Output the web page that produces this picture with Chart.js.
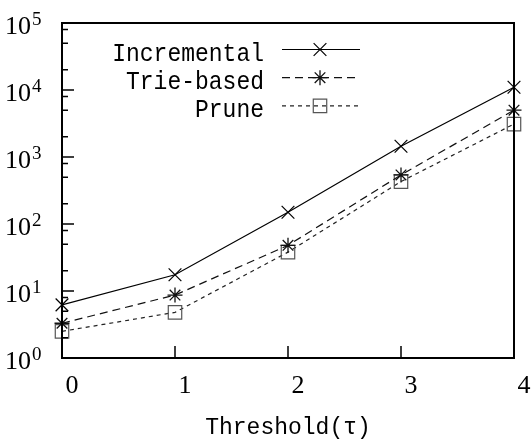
<!DOCTYPE html>
<html><head><meta charset="utf-8">
<script src="https://cdn.jsdelivr.net/npm/chart.js@4"></script>
<style>html,body{margin:0;padding:0;background:#fff}#wrap{width:531px;height:445px}</style>
</head><body><div id="wrap"><canvas id="c" width="531" height="445"></canvas></div>
<script>
const thresholds = [0, 1, 2, 3, 4];
const incremental = [6.2, 17.5, 150, 1450, 11000];
const trieBased = [3.3, 8.7, 48, 540, 5000];
const prune = [2.5, 4.8, 38, 430, 3100];
const seriesNames = ['Incremental', 'Trie-based', 'Prune'];
const yMajorTicks = [1, 10, 100, 1000, 10000, 100000];
const yMinorMultipliers = [2, 5, 8];
const yExponentLabels = ['0', '1', '2', '3', '4', '5'];
const xTickLabels = ['0', '1', '2', '3', '4'];
const xTitle = 'Threshold(τ)';

function pts(vals) { return thresholds.map((t, i) => ({x: t, y: vals[i]})); }

const framePlugin = {
  id: 'frame',
  afterDatasetsDraw(chart) {
    const ctx = chart.ctx, a = chart.chartArea;
    const ys = chart.scales.y, xs = chart.scales.x;
    ctx.save();
    ctx.strokeStyle = '#000';
    ctx.lineWidth = 1.5;
    ctx.setLineDash([]);
    ctx.beginPath();
    yMajorTicks.forEach((v, n) => {
      const py = ys.getPixelForValue(v);
      ctx.moveTo(a.left, py); ctx.lineTo(a.left + 12, py);
      if (n < yMajorTicks.length - 1) {
        yMinorMultipliers.forEach(m => {
          const pm = ys.getPixelForValue(v * m);
          ctx.moveTo(a.left, pm); ctx.lineTo(a.left + 6, pm);
        });
      }
    });
    thresholds.forEach(t => {
      const px = xs.getPixelForValue(t);
      ctx.moveTo(px, a.bottom); ctx.lineTo(px, a.bottom - 12);
    });
    ctx.stroke();
    ctx.lineWidth = 2;
    ctx.strokeRect(a.left, a.top, a.right - a.left, a.bottom - a.top);
    ctx.fillStyle = '#000';
    ctx.font = '19px "Liberation Serif"';
    ctx.textAlign = 'left';
    ctx.textBaseline = 'alphabetic';
    yMajorTicks.forEach((v, n) => {
      const py = ys.getPixelForValue(v);
      ctx.fillText(yExponentLabels[n], a.left - 30, py + 2);
    });
    ctx.restore();
  },
  afterDraw(chart) {
    const ctx = chart.ctx, a = chart.chartArea;
    ctx.save();
    chart.data.datasets.forEach((ds, i) => {
      const y = a.top + 26.5 + i * 28.2;
      ctx.save();
      ctx.fillStyle = '#000';
      ctx.font = '23px "Liberation Mono"';
      ctx.textAlign = 'right';
      ctx.textBaseline = 'alphabetic';
      ctx.translate(a.left + 202, y + 11);
      ctx.scale(1, 1.1);
      ctx.fillText(ds.label, 0, 0);
      ctx.restore();
      ctx.strokeStyle = ds.borderColor;
      ctx.lineWidth = ds.borderWidth;
      ctx.setLineDash(ds.borderDash || []);
      ctx.beginPath();
      ctx.moveTo(a.left + 220, y);
      ctx.lineTo(a.left + 298, y);
      ctx.stroke();
      ctx.setLineDash([]);
      ctx.strokeStyle = ds.pointBorderColor;
      ctx.fillStyle = 'rgba(0,0,0,0)';
      ctx.lineWidth = ds.pointBorderWidth;
      Chart.helpers.drawPoint(ctx, {pointStyle: ds.pointStyle, radius: ds.pointRadius, borderWidth: ds.pointBorderWidth, rotation: 0}, a.left + 258, y);
    });
    ctx.restore();
  }
};

new Chart(document.getElementById('c'), {
  type: 'line',
  data: {
    datasets: [
      {label: seriesNames[0], data: pts(incremental), borderColor: '#000', borderWidth: 1.2,
       pointStyle: 'crossRot', pointRadius: 9, pointBorderWidth: 1.2, pointBorderColor: '#000',
       pointBackgroundColor: 'rgba(0,0,0,0)', backgroundColor: 'rgba(0,0,0,0)', clip: false, tension: 0},
      {label: seriesNames[1], data: pts(trieBased), borderColor: '#111', borderWidth: 1.2, borderDash: [8, 5],
       pointStyle: 'star', pointRadius: 7.5, pointBorderWidth: 1.3, pointBorderColor: '#111',
       pointBackgroundColor: 'rgba(0,0,0,0)', backgroundColor: 'rgba(0,0,0,0)', clip: false, tension: 0},
      {label: seriesNames[2], data: pts(prune), borderColor: '#222', borderWidth: 1.2, borderDash: [4, 4],
       pointStyle: 'rect', pointRadius: 9.5, pointBorderWidth: 1.2, pointBorderColor: '#555',
       pointBackgroundColor: 'rgba(0,0,0,0)', backgroundColor: 'rgba(0,0,0,0)', clip: false, tension: 0}
    ]
  },
  options: {
    responsive: false,
    animation: false,
    devicePixelRatio: 1,
    layout: {padding: {top: 23, right: 17, left: 0, bottom: 0}},
    plugins: {legend: {display: false}, tooltip: {enabled: false}},
    scales: {
      x: {
        type: 'linear', min: 0, max: 4, position: 'bottom',
        grid: {display: false, drawTicks: false},
        border: {display: false},
        ticks: {stepSize: 1, autoSkip: false, color: '#000', padding: 13, labelOffset: 10,
                font: {family: '"Liberation Serif"', size: 26},
                callback: (v) => xTickLabels[thresholds.indexOf(v)] ?? ''},
        title: {display: true, text: xTitle, color: '#000',
                font: {family: '"Liberation Mono"', size: 23}, padding: {top: 0, bottom: 3}},
        afterFit: (s) => { s.height = 87; s.paddingLeft = 0; s.paddingRight = 0; }
      },
      y: {
        type: 'logarithmic', min: 1, max: 100000,
        grid: {display: false, drawTicks: false},
        border: {display: false},
        afterBuildTicks: (s) => { s.ticks = yMajorTicks.map(v => ({value: v, major: true})); },
        ticks: {autoSkip: false, color: '#000', padding: 31, labelOffset: 4,
                font: {family: '"Liberation Serif"', size: 26},
                callback: (v) => yMajorTicks.includes(v) ? '10' : ''},
        afterFit: (s) => { s.width = 62; s.paddingTop = 0; s.paddingBottom = 0; }
      }
    }
  },
  plugins: [framePlugin]
});
</script>
</body></html>
